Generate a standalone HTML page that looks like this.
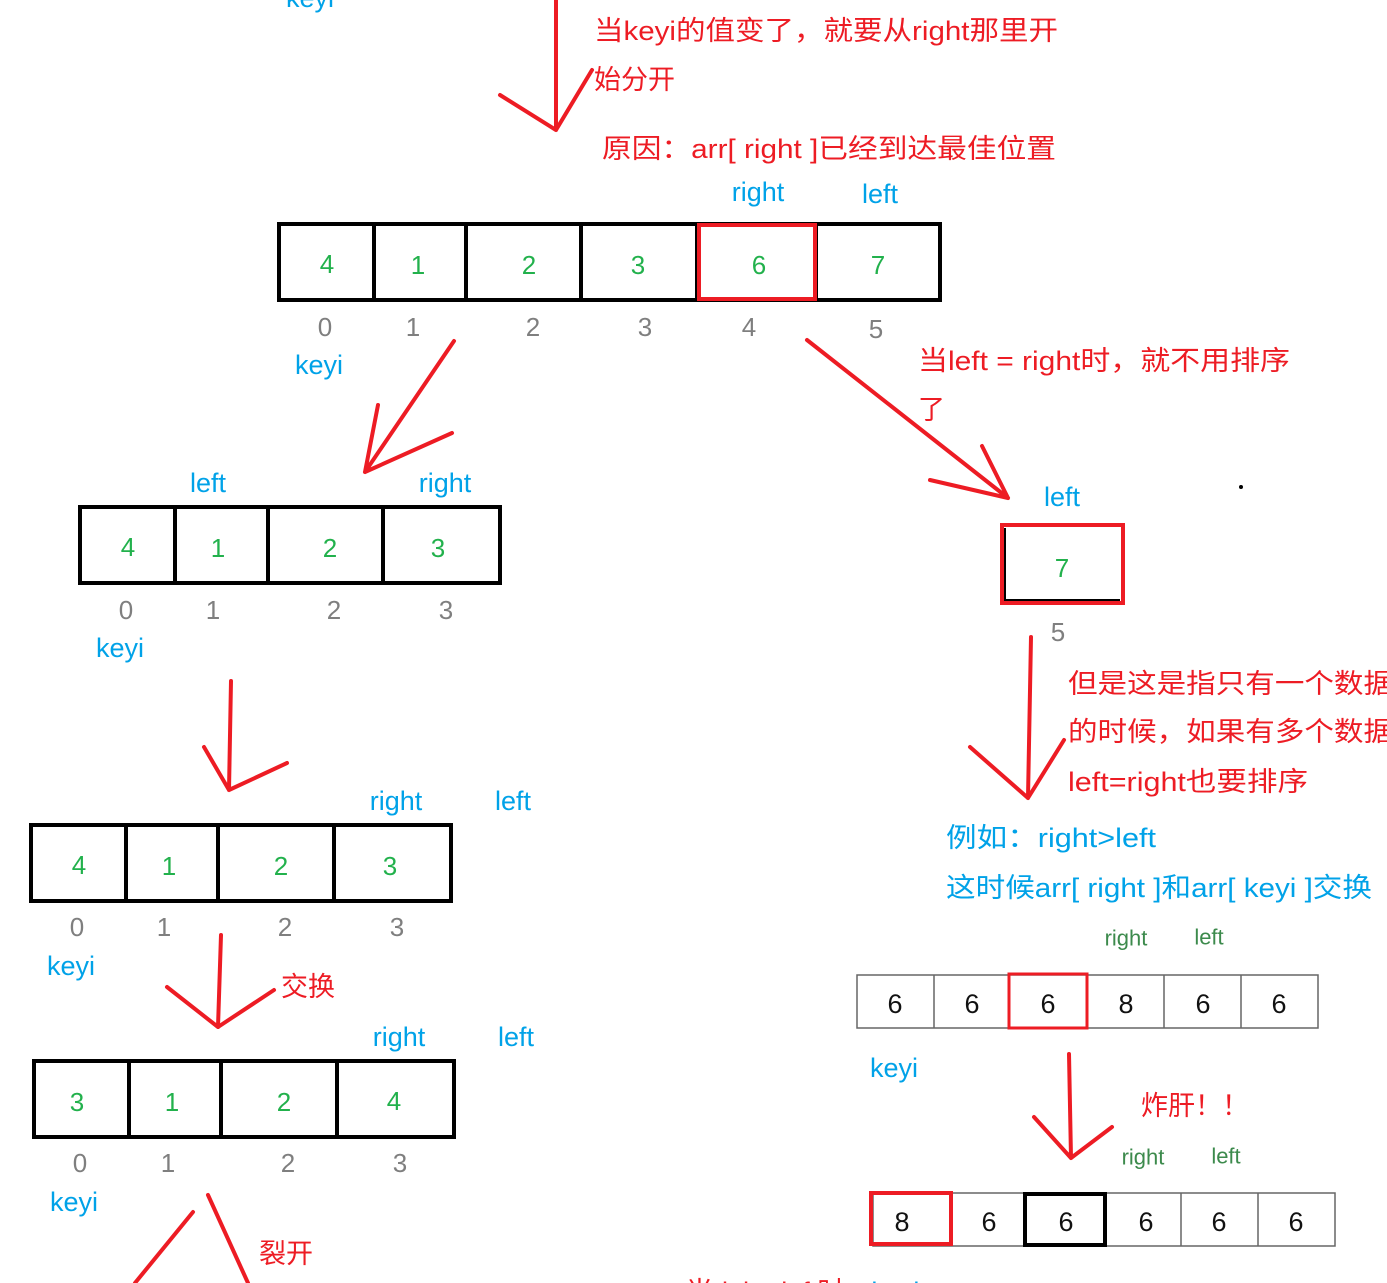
<!DOCTYPE html>
<html><head><meta charset="utf-8"><style>
html,body{margin:0;padding:0;background:#fff;}
svg{display:block;font-family:"Liberation Sans","Noto Sans CJK SC",sans-serif;}
.r{fill:#ed1c24;font-size:27px}
.b{fill:#00a2e8;font-size:27px}
.g{fill:#22b14c;font-size:26px}
.i{fill:#7f7f7f;font-size:26px}
.k{fill:#111;font-size:27px}
.dg{fill:#3c8a4c;font-size:22px}
text{dominant-baseline:central}
.c text{text-anchor:middle}
</style></head><body>
<svg width="1387" height="1283" viewBox="0 0 1387 1283">
<g fill="none" stroke="#ed1c24" stroke-width="4" stroke-linecap="round" stroke-linejoin="round">
<path d="M556 0L556 130M500 95L556 130L592 70"/>
<path d="M454 341L365 472M378 405L365 472L452 433"/>
<path d="M807 340L1008 498M930 480L1008 498L982 446"/>
<path d="M231 681L229 790M204 747L229 790L287 763"/>
<path d="M221 935L218 1027M167 987L218 1027L274 990"/>
<path d="M208 1195L248 1283M193 1212L135 1283"/>
<path d="M1031 637L1028 798M970 747L1028 798L1064 740"/>
<path d="M1069 1054L1071 1158M1034 1117L1071 1158L1112 1127"/>
</g>
<g fill="none" stroke="#000" stroke-width="4">
<rect x="279" y="224" width="661" height="76"/>
<path d="M374 224V300M466 224V300M581 224V300M697 224V300M816 224V300"/>
<rect x="80" y="507" width="420" height="76"/>
<path d="M175 507V583M268 507V583M383 507V583"/>
<rect x="31" y="825" width="420" height="76"/>
<path d="M126 825V901M218 825V901M334 825V901"/>
<rect x="34" y="1061" width="420" height="76"/>
<path d="M129 1061V1137M221 1061V1137M337 1061V1137"/>
</g>
<rect x="699" y="225" width="116" height="74" fill="none" stroke="#ed1c24" stroke-width="4"/>
<rect x="1002" y="525" width="121" height="78" fill="none" stroke="#ed1c24" stroke-width="4"/>
<path d="M1005 528V600H1120" fill="none" stroke="#000" stroke-width="2"/>
<g fill="none" stroke="#666" stroke-width="1.5">
<rect x="857" y="975" width="461" height="53"/>
<path d="M934 975V1028M1009 975V1028M1087 975V1028M1164 975V1028M1241 975V1028"/>
<rect x="873" y="1193" width="462" height="53"/>
<path d="M950 1193V1246M1025 1193V1246M1105 1193V1246M1181 1193V1246M1258 1193V1246"/>
</g>
<rect x="1009" y="974" width="78" height="54" fill="none" stroke="#ed1c24" stroke-width="3"/>
<rect x="871" y="1193" width="80" height="51" fill="none" stroke="#ed1c24" stroke-width="4"/>
<rect x="1025" y="1194" width="80" height="51" fill="none" stroke="#000" stroke-width="4"/>
<circle cx="1241" cy="487" r="2" fill="#000"/>
<g class="c">
<text class="g" x="327" y="264">4</text><text class="g" x="418" y="265">1</text><text class="g" x="529" y="265">2</text><text class="g" x="638" y="265">3</text><text class="g" x="759" y="265">6</text><text class="g" x="878" y="265">7</text>
<text class="i" x="325" y="327">0</text><text class="i" x="413" y="327">1</text><text class="i" x="533" y="327">2</text><text class="i" x="645" y="327">3</text><text class="i" x="749" y="327">4</text><text class="i" x="876" y="329">5</text>
<text class="b" x="758" y="192">right</text><text class="b" x="880" y="194">left</text><text class="b" x="319" y="365">keyi</text><text class="b" x="310" y="-2">keyi</text>
<text class="g" x="128" y="547">4</text><text class="g" x="218" y="548">1</text><text class="g" x="330" y="548">2</text><text class="g" x="438" y="548">3</text>
<text class="i" x="126" y="610">0</text><text class="i" x="213" y="610">1</text><text class="i" x="334" y="610">2</text><text class="i" x="446" y="610">3</text>
<text class="b" x="208" y="483">left</text><text class="b" x="445" y="483">right</text><text class="b" x="120" y="648">keyi</text>
<text class="g" x="79" y="865">4</text><text class="g" x="169" y="866">1</text><text class="g" x="281" y="866">2</text><text class="g" x="390" y="866">3</text>
<text class="i" x="77" y="927">0</text><text class="i" x="164" y="927">1</text><text class="i" x="285" y="927">2</text><text class="i" x="397" y="927">3</text>
<text class="b" x="396" y="801">right</text><text class="b" x="513" y="801">left</text><text class="b" x="71" y="966">keyi</text>
<text class="g" x="77" y="1102">3</text><text class="g" x="172" y="1102">1</text><text class="g" x="284" y="1102">2</text><text class="g" x="394" y="1101">4</text>
<text class="i" x="80" y="1163">0</text><text class="i" x="168" y="1163">1</text><text class="i" x="288" y="1163">2</text><text class="i" x="400" y="1163">3</text>
<text class="b" x="399" y="1037">right</text><text class="b" x="516" y="1037">left</text><text class="b" x="74" y="1202">keyi</text>
<text class="g" x="1062" y="568">7</text><text class="b" x="1062" y="497">left</text><text class="i" x="1058" y="632">5</text>
<text class="k" x="895" y="1004">6</text><text class="k" x="972" y="1004">6</text><text class="k" x="1048" y="1004">6</text><text class="k" x="1126" y="1004">8</text><text class="k" x="1203" y="1004">6</text><text class="k" x="1279" y="1004">6</text>
<text class="dg" x="1126" y="938">right</text><text class="dg" x="1209" y="937">left</text><text class="b" x="894" y="1068">keyi</text>
<text class="k" x="902" y="1222">8</text><text class="k" x="989" y="1222">6</text><text class="k" x="1066" y="1222">6</text><text class="k" x="1146" y="1222">6</text><text class="k" x="1219" y="1222">6</text><text class="k" x="1296" y="1222">6</text>
<text class="dg" x="1143" y="1157">right</text><text class="dg" x="1226" y="1156">left</text>
</g>
<text class="r" x="594" y="31" textLength="464" lengthAdjust="spacingAndGlyphs">当keyi的值变了，就要从right那里开</text>
<text class="r" x="594" y="80">始分开</text>
<text class="r" x="602" y="149" textLength="454" lengthAdjust="spacingAndGlyphs">原因：arr[ right ]已经到达最佳位置</text>
<text class="r" x="918" y="361" textLength="372" lengthAdjust="spacingAndGlyphs">当left = right时，就不用排序</text>
<text class="r" x="918" y="410">了</text>
<text class="r" x="1068" y="684" textLength="325" lengthAdjust="spacingAndGlyphs">但是这是指只有一个数据</text>
<text class="r" x="1068" y="732" textLength="325" lengthAdjust="spacingAndGlyphs">的时候，如果有多个数据</text>
<text class="r" x="1068" y="782" textLength="240" lengthAdjust="spacingAndGlyphs">left=right也要排序</text>
<text class="b" x="946" y="838" textLength="210" lengthAdjust="spacingAndGlyphs">例如：right&gt;left</text>
<text class="b" x="946" y="888" textLength="426" lengthAdjust="spacingAndGlyphs">这时候arr[ right ]和arr[ keyi ]交换</text>
<text class="r" x="281" y="987">交换</text>
<text class="r" x="1141" y="1106">炸肝！！</text>
<text class="r" x="259" y="1254">裂开</text>
<text class="r" x="686" y="1292">当right&gt;left时，<tspan fill="#00a2e8">keyi</tspan></text>
</svg>
</body></html>
